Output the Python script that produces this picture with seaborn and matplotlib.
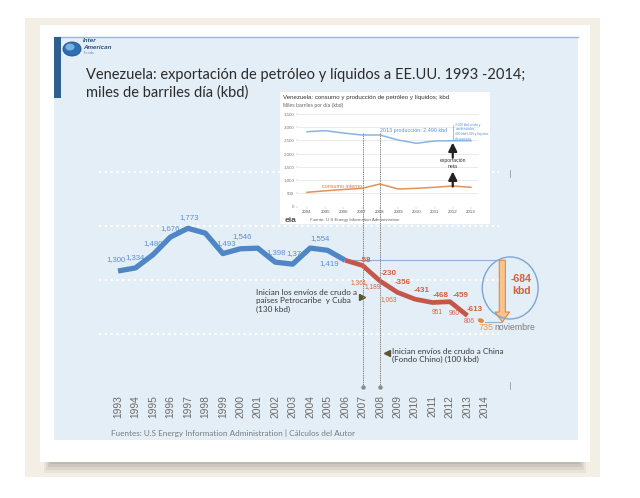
import matplotlib
matplotlib.use("Agg")
import matplotlib.pyplot as plt
import matplotlib.transforms as mtrans
from matplotlib.patches import Rectangle, Ellipse, FancyArrowPatch, Circle
from matplotlib.lines import Line2D
import pandas as pd
import seaborn as sns

# ---------------- data ----------------
years_hist = [1993, 1994, 1995, 1996, 1997, 1998, 1999, 2000, 2001, 2002, 2003, 2004, 2005, 2006]
exports_hist = [1300, 1334, 1480, 1676, 1773, 1719, 1493, 1546, 1553, 1398, 1376, 1554, 1529, 1419]
hist_label_years = [1993, 1994, 1995, 1996, 1997, 1999, 2000, 2002, 2003, 2004, 2006]
hist_label_texts = ["1,300", "1,334", "1,480", "1,676", "1,773", "1,493", "1,546", "1,398", "1,376", "1,554", "1,419"]

years_decl = [2006, 2007, 2008, 2009, 2010, 2011, 2012, 2013]
exports_decl = [1419, 1361, 1189, 1063, 988, 951, 960, 806]
decl_label_years = [2007, 2008, 2009, 2011, 2012, 2013]
decl_label_texts = ["1,361", "1,189", "1,063", "951", "960", "806"]
delta_years = [2007, 2008, 2009, 2010, 2011, 2012, 2013]
delta_texts = ["-58", "-230", "-356", "-431", "-468", "-459", "-613"]

years_nov = [2013, 2014]
exports_nov = [806, 735]
baseline_value = 1419
drop_text = "-684\nkbd"
tick_years = list(range(1993, 2015))
grid_levels = [600, 1200, 1800, 2400]
event_years = [2007, 2008]

inset_years = [2004, 2005, 2006, 2007, 2008, 2009, 2010, 2011, 2012, 2013]
inset_prod = [2830, 2868, 2780, 2706, 2706, 2517, 2392, 2480, 2490, 2490]
inset_cons = [543, 600, 650, 690, 857, 668, 694, 732, 781, 732]
inset_yticks = [0, 500, 1000, 1500, 2000, 2500, 3000, 3500]
inset_ylabels = ["0", "500", "1,000", "1,500", "2,000", "2,500", "3,000", "3,500"]

# ---------------- figure ----------------
W, H = 640, 498
fig = plt.figure(figsize=(6.4, 4.98), dpi=100, facecolor="white")

def fx(px):
    return px / W

def fy(py):
    return 1 - py / H

def rect(x0, y0, x1, y1, **kw):
    r = Rectangle((fx(x0), fy(y1)), fx(x1) - fx(x0), fy(y0) - fy(y1),
                  transform=fig.transFigure, zorder=kw.pop("zorder", -10), **kw)
    fig.add_artist(r)
    return r

def ftext(px, py, s, **kw):
    return fig.text(fx(px), fy(py), s, **kw)

# slide frame
rect(25, 18, 600, 477, facecolor="#f3efe5", edgecolor="none")
for i, a in enumerate([0.10, 0.14, 0.18, 0.22]):
    rect(44 + i * 2, 455, 586 - i * 2, 473 - i * 3, facecolor="#8c8880", edgecolor="none", alpha=a)
rect(40, 25, 590, 462, facecolor="white", edgecolor="none")
rect(54, 37, 578, 440, facecolor="#e3eef7", edgecolor="none")
fig.add_artist(Line2D([fx(54), fx(578)], [fy(37), fy(37)], transform=fig.transFigure,
                      color="#9db8d6", lw=1.0, zorder=-9))
rect(54, 37, 61, 98, facecolor="#2f5f8f", edgecolor="none", zorder=-9)

# logo
fig.add_artist(Circle((fx(72), fy(49)), 9 / W, transform=fig.transFigure,
                      facecolor="#2c6fb3", edgecolor="#1d4f85", lw=0.6, zorder=-8))
fig.add_artist(Circle((fx(70), fy(47)), 4.5 / W, transform=fig.transFigure,
                      facecolor="#8fc3ea", edgecolor="none", zorder=-8, alpha=0.8))
ftext(83, 41, "Inter", fontsize=4.5, color="#2b4f7a", style="italic", fontweight="bold",
      va="center", family="Liberation Sans")
ftext(83, 47.5, "American", fontsize=4.5, color="#2b4f7a", style="italic", fontweight="bold",
      va="center", family="Liberation Sans")
ftext(83, 53, "Trends", fontsize=2.8, color="#7a8ca0", va="center", family="Liberation Sans")

# title
ftext(86, 75, "Venezuela: exportación de petróleo y líquidos a EE.UU. 1993 -2014;",
      fontsize=10.5, color="#2b2b2b", va="center", family="Lato")
ftext(86, 93, "miles de barriles día (kbd)", fontsize=10.5, color="#2b2b2b", va="center", family="Lato")

# ---------------- main axes ----------------
px_per_year = 17.47
px_per_kbd = 0.0903
x_ref_px, y_ref_px = 118, 271
L, R, T, B = 100, 515, 160, 390
ax = fig.add_axes([fx(L), fy(B), fx(R) - fx(L), fy(T) - fy(B)])
ax.set_zorder(0)
ax.set_xlim(1993 + (L - x_ref_px) / px_per_year, 1993 + (R - x_ref_px) / px_per_year)
ax.set_ylim(1300 - (B - y_ref_px) / px_per_kbd, 1300 + (y_ref_px - T) / px_per_kbd)
ax.patch.set_visible(False)
for s in ax.spines.values():
    s.set_visible(False)

for g in grid_levels:
    ax.plot([1991.9, 2014.8], [g, g], color="white", lw=1.6, ls=(0, (1, 1.6)), zorder=1, clip_on=False)

blue = "#4f86c6"
red = "#c4564a"
orange = "#e8873a"

df_hist = pd.DataFrame({"year": years_hist, "kbd": exports_hist})
df_decl = pd.DataFrame({"year": years_decl, "kbd": exports_decl})
df_nov = pd.DataFrame({"year": years_nov, "kbd": exports_nov})
sns.lineplot(data=df_hist, x="year", y="kbd", ax=ax, color=blue, lw=3.8, zorder=4,
             solid_joinstyle="round", solid_capstyle="butt")
sns.lineplot(data=df_decl, x="year", y="kbd", ax=ax, color=red, lw=3.4, zorder=5,
             solid_joinstyle="round", solid_capstyle="butt")
ax.plot(years_nov, exports_nov, color=orange, lw=3.0, ls=(0.5, (0.5, 3.2)),
        dash_capstyle="round", zorder=5)
ax.set_xlabel("")
ax.set_ylabel("")

# labels
hist_off = [(-2, 11), (0, 10), (0, 11), (0, 9), (1, 11), (3, 10), (2, 12), (1, 10), (3, 11), (10, 10), (-16, -3)]
for yr, txt, off in zip(hist_label_years, hist_label_texts, hist_off):
    v = exports_hist[years_hist.index(yr)]
    ax.annotate(txt, (yr, v), xytext=off, textcoords="offset pixels", ha="center", va="center",
                fontsize=5.6, color="#5b8fd0", family="Liberation Sans", zorder=3)

decl_off = [(-4, -17.5), (-7, -6), (-9, -7), (5, -10), (4, -12), (2, -6)]
for yr, txt, off in zip(decl_label_years, decl_label_texts, decl_off):
    v = exports_decl[years_decl.index(yr)]
    ax.annotate(txt, (yr, v), xytext=off, textcoords="offset pixels", ha="center", va="center",
                fontsize=4.8, color="#d9694a", family="Liberation Sans", zorder=6)

delta_off = [(3, 4.5), (9, 8), (5, 10), (7, 9), (8, 7.5), (11, 6), (7, 6.5)]
for yr, txt, off in zip(delta_years, delta_texts, delta_off):
    v = exports_decl[years_decl.index(yr)]
    ax.annotate(txt, (yr, v), xytext=off, textcoords="offset pixels", ha="center", va="center",
                fontsize=5.8, color="#d4603c", family="Liberation Sans", fontweight="bold", zorder=6)

ax.annotate(str(exports_nov[-1]), (years_nov[-1], exports_nov[-1]), xytext=(1.5, -5),
            textcoords="offset pixels", ha="center", va="center", fontsize=6.4, color="#eb9a55",
            family="Liberation Sans", annotation_clip=False)
ax.annotate("noviembre", (years_nov[-1], exports_nov[-1]), xytext=(10, -5),
            textcoords="offset pixels", ha="left", va="center", fontsize=6.2, color="#7a7a7a",
            family="Liberation Sans", annotation_clip=False)

# baseline and drop arrow
ax.plot([2006, 2015.0], [baseline_value, baseline_value], color="#8fb0d3", lw=0.8, zorder=2, clip_on=False)
ax.plot([2014, 2015.0], [exports_nov[-1], exports_nov[-1]], color="#8fb0d3", lw=0.8, zorder=2, clip_on=False)
arr = FancyArrowPatch((2015.0, baseline_value), (2015.0, exports_nov[-1]),
                      arrowstyle="simple,tail_width=0.55,head_width=1.3,head_length=0.9",
                      mutation_scale=8, facecolor="#f8c48d", edgecolor=orange, lw=0.8,
                      shrinkA=0, shrinkB=0, zorder=6, clip_on=False)
ax.add_patch(arr)
ell = Ellipse((2015.45, 1112), 3.2, 687, facecolor="none", edgecolor="#7ea6cf", lw=1.0,
              zorder=6, clip_on=False)
ax.add_patch(ell)
ax.text(2016.1, 1145, drop_text, ha="center", va="center", fontsize=7.6, fontweight="bold",
        color="#d4603c", family="Liberation Sans", linespacing=1.15, clip_on=False)

# ticks
ax.set_yticks([])
ax.set_xticks(tick_years)
ax.set_xticklabels([str(y) for y in tick_years], rotation=90, fontsize=7.4, color="#6b6b6b",
                   family="Liberation Sans", va="top", ha="center")
ax.tick_params(axis="x", length=0, pad=3.6)

# annotations
ftext(256, 289, "Inician los envíos de crudo a\npaíses Petrocaribe  y Cuba\n(130 kbd)",
      fontsize=5.9, color="#3a3a3a", family="Lato", va="top", ha="left", linespacing=1.2,
      transform=fig.transFigure)
ftext(392, 348, "Inician envíos de crudo a China\n(Fondo Chino) (100 kbd)",
      fontsize=5.9, color="#3a3a3a", family="Lato", va="top", ha="left", linespacing=1.2)
fig.add_artist(Line2D([fx(362)], [fy(297)], transform=fig.transFigure, marker=">", ms=5,
                      color="#5b5530", lw=0, zorder=7))
fig.add_artist(Line2D([fx(386.5)], [fy(353)], transform=fig.transFigure, marker="<", ms=5,
                      color="#5b5530", lw=0, zorder=7))

# footer
ftext(111, 433, "Fuentes: U.S Energy Information Administration | Cálculos del Autor",
      fontsize=5.9, color="#7a7a7a", family="Lato", va="center")

# small right-side ticks
for y0, y1 in [(170, 177), (382, 389)]:
    fig.add_artist(Line2D([fx(510), fx(510)], [fy(y0), fy(y1)], transform=fig.transFigure,
                          color="#9a9a9a", lw=0.6, zorder=1))

# ---------------- inset ----------------
ax_bg = fig.add_axes([fx(280), fy(224), fx(490) - fx(280), fy(92) - fy(224)])
ax_bg.set_zorder(1)
ax_bg.set_facecolor("white")
ax_bg.set_xticks([]); ax_bg.set_yticks([])
for s in ax_bg.spines.values():
    s.set_visible(False)

iL, iR, iT, iB = 298, 478, 112, 206.7
ax_in = fig.add_axes([fx(iL), fy(iB), fx(iR) - fx(iL), fy(iT) - fy(iB)])
ax_in.set_zorder(2)
ax_in.patch.set_visible(False)
ipx_year = 18.22
ax_in.set_xlim(2004 + (iL - 307) / ipx_year, 2004 + (iR - 307) / ipx_year)
ax_in.set_ylim(0, (iB - iT) / 26.5 * 1000)
for s in ax_in.spines.values():
    s.set_visible(False)
for yt in inset_yticks:
    ax_in.axhline(yt, color="#dcdcdc", lw=0.4, zorder=0)
df_in = pd.DataFrame({"year": inset_years, "prod": inset_prod, "cons": inset_cons})
sns.lineplot(data=df_in, x="year", y="prod", ax=ax_in, color="#86b5e3", lw=1.1)
sns.lineplot(data=df_in, x="year", y="cons", ax=ax_in, color="#e0925a", lw=1.1)
ax_in.set_xlabel(""); ax_in.set_ylabel("")
ax_in.set_xticks(inset_years)
ax_in.set_xticklabels([str(y) for y in inset_years], fontsize=3.2, color="#555555", family="Liberation Sans")
ax_in.set_yticks(inset_yticks)
ax_in.set_yticklabels(inset_ylabels, fontsize=3.2, color="#777777", family="Liberation Sans")
ax_in.tick_params(length=1.2, width=0.3, pad=1.5, color="#aaaaaa")

ax_in.text(2008.0, 2780, "2013 producción: 2.490 kbd", fontsize=3.9, color="#5b8fd0",
           family="Liberation Sans", va="bottom", ha="left")
ax_in.text(2004.8, 780, "consumo interno", fontsize=3.9, color="#e07b39",
           family="Liberation Sans", va="center", ha="left")
ax_in.text(2012, 1620, "exportación\nneta", fontsize=3.6, color="#333333",
           family="Liberation Sans", va="center", ha="center", linespacing=1.3)
ax_in.annotate("", xy=(2012, 2420), xytext=(2012, 1850),
               arrowprops=dict(arrowstyle="-|>,head_width=0.25,head_length=0.5", lw=1.6, color="#222222",
                               shrinkA=0, shrinkB=0))
ax_in.annotate("", xy=(2012, 1330), xytext=(2012, 760),
               arrowprops=dict(arrowstyle="-|>,head_width=0.25,head_length=0.5", lw=1.6, color="#222222",
                               shrinkA=0, shrinkB=0))
ax_in.plot([2012.0, 2012.0], [2500, 3100], color="#5b8fd0", lw=0.4, clip_on=False)
ax_in.text(2012.15, 3000, "3.000 kbd crudo y\ncondensados", fontsize=2.3, color="#5b8fd0",
           va="center", ha="left", family="Liberation Sans", clip_on=False)
ax_in.text(2012.15, 2640, "490 kbd LGN y líquidos\nde proceso", fontsize=2.3, color="#5b8fd0",
           va="center", ha="left", family="Liberation Sans", clip_on=False)

ftext(283, 97, "Venezuela: consumo y producción de petróleo y líquidos; kbd", fontsize=4.4,
      color="#333333", family="Liberation Sans", va="center", zorder=5)
ftext(283, 105, "Miles barriles por día (kbd)", fontsize=3.6, color="#666666",
      family="Liberation Sans", va="center", zorder=5)
ftext(285, 220, "eia", fontsize=6, color="#555555", family="Liberation Sans", va="center",
      fontweight="bold", zorder=5)
ftext(310, 220, "Fuente: U.S Energy Information Administration", fontsize=3.2, color="#666666",
      family="Liberation Sans", va="center", zorder=5)

# event lines (2007, 2008) crossing inset and main chart
blend = mtrans.blended_transform_factory(ax.transData, fig.transFigure)
for ey in event_years:
    fig.add_artist(Line2D([ey, ey], [fy(133), fy(387)], transform=blend, color="#8a8a8a",
                          lw=0.7, ls=(0, (1.5, 0.8)), zorder=8))
    fig.add_artist(Line2D([ey], [fy(387)], transform=blend, color="#8a8a8a", marker="o",
                          ms=2.2, lw=0, zorder=8))

fig.savefig("out.png", dpi=100, facecolor="white")
